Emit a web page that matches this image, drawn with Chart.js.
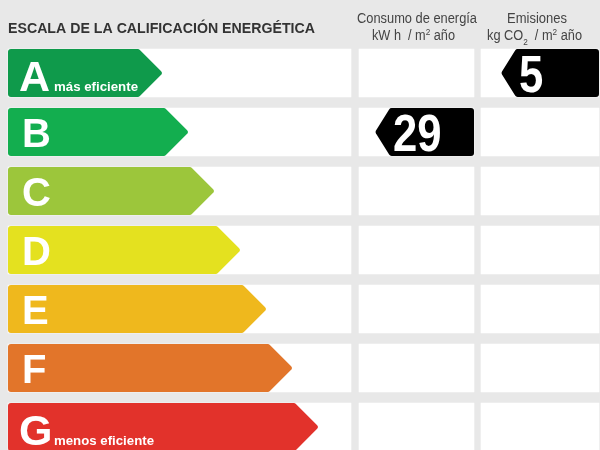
<!DOCTYPE html>
<html><head><meta charset="utf-8">
<script src="https://cdn.jsdelivr.net/npm/chart.js@4.4.1/dist/chart.umd.min.js"></script>
<style>html,body{margin:0;padding:0;background:#e8e8e8;overflow:hidden}#wrap{width:600px;height:450px;position:relative}</style>
</head><body><div id="wrap"><canvas id="c"></canvas></div>
<script>
// ---- data ----
const categories = ['A', 'B', 'C', 'D', 'E', 'F', 'G'];
const ratingTips = [163, 189, 215, 241, 267, 293, 319];
const consumptionValue = 29;
const consumptionClass = 'B';
const emissionsValue = 5;
const emissionsClass = 'A';
const bestLabel = 'más eficiente';
const worstLabel = 'menos eficiente';
const titleText = 'ESCALA DE LA CALIFICACIÓN ENERGÉTICA';

// ---- layout / style ----
const ratingColors = ['#0f9a4b', '#13ae4f', '#9cc63b', '#e4e11f', '#efb81d', '#e2752a', '#e2322b'];
const COL1 = [8, 351], COL2 = [359, 474], COL3 = [481, 599];
const IND2_START = 375, IND3_START = 501;
const FONT = '"Liberation Sans", Arial, Helvetica, sans-serif';

const panel = r => categories.map(() => r);

function arrowRight(ctx, x0, x1, yc, h, d, r) {
  const top = yc - h / 2, bot = yc + h / 2, be = x1 - d;
  ctx.beginPath();
  ctx.moveTo(x0 + r, top);
  ctx.arcTo(be, top, x1, yc, r);
  ctx.arcTo(x1, yc, be, bot, r);
  ctx.arcTo(be, bot, x0, bot, r);
  ctx.arcTo(x0, bot, x0, top, r);
  ctx.arcTo(x0, top, be, top, r);
  ctx.closePath();
  ctx.fill();
}
function arrowLeft(ctx, x0, x1, yc, h, d, r) {
  const top = yc - h / 2, bot = yc + h / 2, bs = x0 + d;
  ctx.beginPath();
  ctx.moveTo(x1 - r, top);
  ctx.arcTo(x1, top, x1, bot, r);
  ctx.arcTo(x1, bot, bs, bot, r);
  ctx.arcTo(bs, bot, x0, yc, r);
  ctx.arcTo(x0, yc, bs, top, r);
  ctx.arcTo(bs, top, x1, top, r);
  ctx.closePath();
  ctx.fill();
}
function fitText(ctx, text, x, y, font, color, width) {
  ctx.save();
  ctx.font = font;
  ctx.fillStyle = color;
  ctx.textBaseline = 'alphabetic';
  ctx.textAlign = 'left';
  const w = ctx.measureText(text).width;
  ctx.translate(x, y);
  ctx.scale(width / w, 1);
  ctx.fillText(text, 0, 0);
  ctx.restore();
}
function richText(ctx, parts, x, y, size, color, width) {
  ctx.save();
  ctx.fillStyle = color;
  ctx.textBaseline = 'alphabetic';
  let total = 0;
  parts.forEach(p => {
    ctx.font = (p.small ? Math.round(size * 0.65) : size) + 'px ' + FONT;
    p.w = ctx.measureText(p.t).width;
    total += p.w;
  });
  ctx.translate(x, y);
  ctx.scale(width / total, 1);
  let cx = 0;
  parts.forEach(p => {
    ctx.font = (p.small ? Math.round(size * 0.65) : size) + 'px ' + FONT;
    ctx.fillText(p.t, cx, p.dy || 0);
    cx += p.w;
  });
  ctx.restore();
}

const energyPlugin = {
  id: 'energy',
  beforeDraw(chart) {
    const ctx = chart.ctx;
    ctx.save();
    ctx.fillStyle = '#e8e8e8';
    ctx.fillRect(0, 0, chart.width, chart.height);
    ctx.restore();
  },
  beforeDatasetDraw(chart, args) {
    const ds = chart.data.datasets[args.index];
    if (ds.kind !== 'arrowR' && ds.kind !== 'arrowL') return;
    const ctx = chart.ctx;
    ctx.save();
    args.meta.data.forEach((el, i) => {
      if (ds.data[i] == null) return;
      const p = el.getProps(['x', 'y', 'base', 'height'], true);
      const x0 = Math.min(p.x, p.base), x1 = Math.max(p.x, p.base);
      if (ds.kind === 'arrowR') {
        ctx.fillStyle = ds.backgroundColor[i];
        arrowRight(ctx, x0, x1, p.y, p.height, 24, 3);
        const c = categories[i];
        const edge = (i === 0 || i === categories.length - 1);
        ctx.fillStyle = '#ffffff';
        ctx.font = 'bold ' + (edge ? 43 : 40) + 'px ' + FONT;
        ctx.textBaseline = 'alphabetic';
        ctx.textAlign = 'left';
        ctx.fillText(c, x0 + (edge ? 11 : 14), p.y + (edge ? 18 : 15));
        if (i === 0) fitText(ctx, bestLabel, x0 + 46, p.y + 18, 'bold 12px ' + FONT, '#ffffff', 84);
        if (i === categories.length - 1) fitText(ctx, worstLabel, x0 + 46, p.y + 18, 'bold 12px ' + FONT, '#ffffff', 100);
      } else {
        ctx.fillStyle = '#000000';
        arrowLeft(ctx, x0, x1, p.y, p.height, 15, 3);
        ctx.save();
        ctx.fillStyle = '#ffffff';
        ctx.font = 'bold 52px ' + FONT;
        ctx.textBaseline = 'alphabetic';
        ctx.textAlign = 'left';
        ctx.translate(x0 + 18, p.y + 19);
        ctx.scale(0.84, 1);
        ctx.fillText(String(ds.value), 0, 0);
        ctx.restore();
      }
    });
    ctx.restore();
    return false;
  },
  afterDraw(chart) {
    const ctx = chart.ctx;
    fitText(ctx, titleText, 8, 33, 'bold 14px ' + FONT, '#333333', 307);
    fitText(ctx, 'Consumo de energía', 357, 23, '14px ' + FONT, '#444444', 120);
    fitText(ctx, 'Emisiones', 507, 23, '14px ' + FONT, '#444444', 60);
    richText(ctx, [{t: 'kW h  / m'}, {t: '2', small: true, dy: -5}, {t: ' año'}], 372, 40, 14, '#444444', 83);
    richText(ctx, [{t: 'kg CO'}, {t: '2', small: true, dy: 5}, {t: '  / m'}, {t: '2', small: true, dy: -5}, {t: ' año'}], 487, 40, 14, '#444444', 95);
  }
};

new Chart(document.getElementById('c'), {
  type: 'bar',
  data: {
    labels: categories,
    datasets: [
      {label: 'panel1', order: 5, data: panel(COL1), backgroundColor: '#ffffff'},
      {label: 'panel2', order: 5, data: panel(COL2), backgroundColor: '#ffffff'},
      {label: 'panel3', order: 5, data: panel(COL3), backgroundColor: '#ffffff'},
      {label: 'Calificación', order: 1, kind: 'arrowR', data: categories.map((c, i) => [COL1[0], ratingTips[i]]), backgroundColor: ratingColors},
      {label: 'Consumo', order: 1, kind: 'arrowL', value: consumptionValue, data: categories.map(c => c === consumptionClass ? [IND2_START, COL2[1]] : null), backgroundColor: '#000000'},
      {label: 'Emisiones', order: 1, kind: 'arrowL', value: emissionsValue, data: categories.map(c => c === emissionsClass ? [IND3_START, COL3[1]] : null), backgroundColor: '#000000'}
    ]
  },
  options: {
    indexAxis: 'y',
    responsive: true,
    maintainAspectRatio: false,
    devicePixelRatio: 1,
    animation: false,
    layout: {padding: {top: 73, bottom: 23, left: 0, right: 0}},
    datasets: {bar: {barThickness: 48, grouped: false, borderWidth: 0, borderSkipped: false, clip: false}},
    scales: {
      x: {type: 'linear', min: 0, max: 600, display: false},
      y: {type: 'category', offset: false, display: false}
    },
    plugins: {legend: {display: false}, tooltip: {enabled: false}, title: {display: false}}
  },
  plugins: [energyPlugin]
});
</script>
</body></html>
